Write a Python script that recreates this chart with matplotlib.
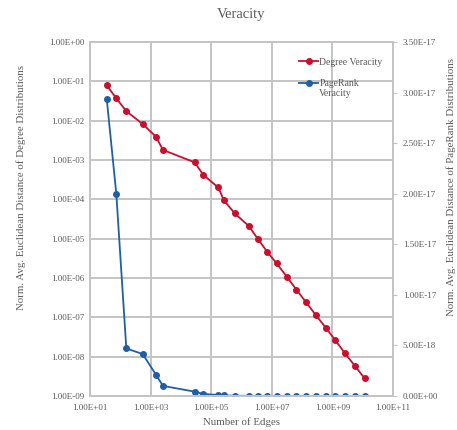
import numpy as np
import matplotlib
matplotlib.use('Agg')
import matplotlib.pyplot as plt
from matplotlib.ticker import FuncFormatter, FixedLocator, NullLocator

plt.rcParams['font.family'] = ['Liberation Serif', 'DejaVu Serif']

# データ
edges = [35.6, 73.8, 158, 548, 1507, 2565, 28500, 54800, 171000, 264000,
         597000, 1.73e6, 3.43e6, 6.95e6, 1.45e7, 3.1e7, 6.44e7, 1.35e8,
         2.81e8, 6.0e8, 1.25e9, 2.6e9, 5.45e9, 1.16e10]
degree_veracity = [0.079, 0.037, 0.0175, 0.0082, 0.0039, 0.0018, 8.7e-4, 4.2e-4,
                   2.0e-4, 9.4e-5, 4.4e-5, 2.1e-5, 1.0e-5, 4.7e-6, 2.34e-6,
                   1.09e-6, 5.1e-7, 2.42e-7, 1.15e-7, 5.5e-8, 2.6e-8, 1.22e-8,
                   5.9e-9, 2.8e-9]
pagerank_veracity = [2.94e-17, 2.0e-17, 4.7e-18, 4.15e-18, 2.1e-18, 1.0e-18,
                     4.3e-19, 2.0e-19, 1.0e-19, 5e-20, 3e-20, 2e-20, 1.5e-20,
                     1e-20, 1e-20, 8e-21, 6e-21, 5e-21, 4e-21, 3e-21, 2e-21,
                     2e-21, 1e-21, 1e-21]

RED = '#C8102E'
BLUE = '#1F5FA5'
TEXT = '#595959'
GRID = '#C4C4C4'

fig = plt.figure(figsize=(4.57, 4.30), dpi=100)
ax = fig.add_axes([90/457, 34/430, 303/457, 354/430])
ax2 = ax.twinx()

sci = FuncFormatter(lambda v, p: f'{v:.2E}')

# 左軸 (log)
ax.set_xscale('log')
ax.set_yscale('log')
ax.set_xlim(1e1, 1e11)
ax.set_ylim(1e-9, 1e0)
ax.xaxis.set_major_locator(FixedLocator([10.0**k for k in range(1, 12, 2)]))
ax.yaxis.set_major_locator(FixedLocator([10.0**k for k in range(-9, 1)]))
ax.xaxis.set_minor_locator(NullLocator())
ax.yaxis.set_minor_locator(NullLocator())
ax.xaxis.set_major_formatter(sci)
ax.yaxis.set_major_formatter(sci)
ax.grid(True, color=GRID, linewidth=1.4)
ax.set_axisbelow(True)
ax.tick_params(axis='both', length=0, labelsize=6.5, colors=TEXT, pad=4)
ax.tick_params(axis='x', pad=6)

ax.plot(edges, degree_veracity, '-o', color=RED, linewidth=1.3,
        markersize=4, label='Degree Veracity')

# 右軸 (linear)
ax2.set_ylim(0, 3.5e-17)
ax2.set_yticks(np.arange(0, 3.51e-17, 5e-18))
ax2.yaxis.set_major_formatter(sci)
ax2.tick_params(axis='y', length=3, width=0.8, color=GRID, labelsize=6.5,
                colors=TEXT, pad=4)
ax2.yaxis.offsetText.set_visible(False)

ax2.plot(edges, pagerank_veracity, '-o', color=BLUE, linewidth=1.3,
         markersize=4, label='PageRank')

for a in (ax, ax2):
    for s in a.spines.values():
        s.set_color(GRID)
        s.set_linewidth(1.4)

ax.set_title('Veracity', fontsize=10.5, color=TEXT, pad=17)
ax.set_xlabel('Number of Edges', fontsize=7.8, color=TEXT)
ax.xaxis.set_label_coords(0.5, -0.06)
ax.set_ylabel('Norm. Avg. Euclidean Distance of Degree Distributions',
              fontsize=7.8, color=TEXT)
ax.yaxis.set_label_coords((26 - 90) / 303, 0.59)
ax2.set_ylabel('Norm. Avg. Euclidean Distance of PageRank Distributions',
               fontsize=7.8, color=TEXT)
ax2.yaxis.set_label_coords((446 - 90) / 303, 0.59)

h1, l1 = ax.get_legend_handles_labels()
h2, l2 = ax2.get_legend_handles_labels()
leg = fig.legend(h1 + h2, l1 + l2, loc='upper left',
                 bbox_to_anchor=(294/457, 1 - 53/430), frameon=False,
                 fontsize=7, handlelength=2.0, handletextpad=0.1,
                 labelspacing=1.3, borderpad=0)
for t in leg.get_texts():
    t.set_color(TEXT)
fig.text(319/457, 1 - 94/430, 'Veracity', fontsize=7, color=TEXT,
         va='center', ha='left')

fig.savefig('out.png', dpi=100)
